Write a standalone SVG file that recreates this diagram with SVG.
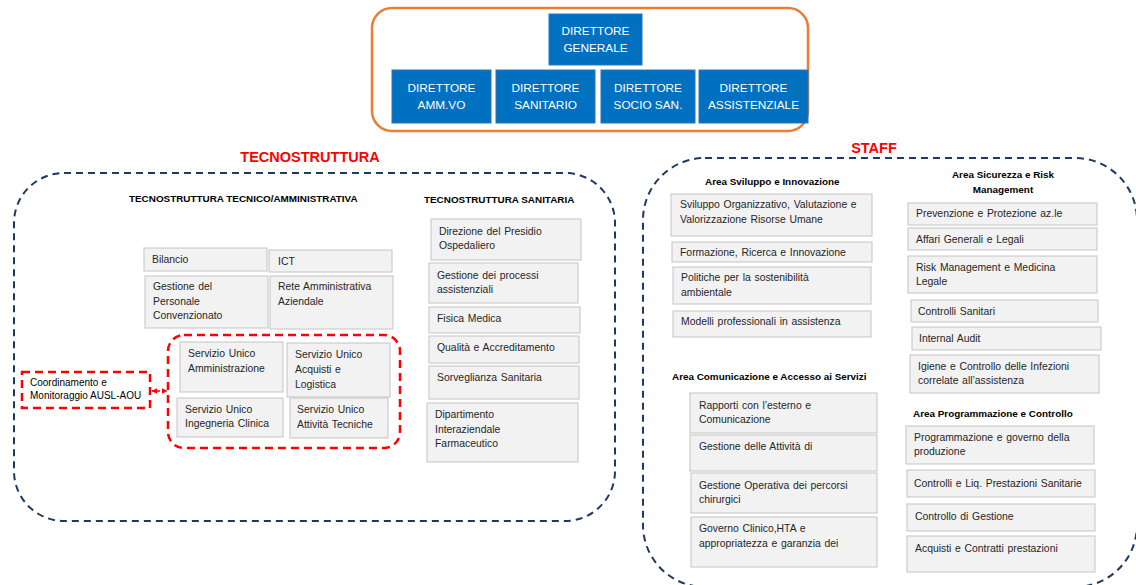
<svg xmlns="http://www.w3.org/2000/svg" width="1136" height="585" viewBox="0 0 1136 585">
<style>
text{font-family:"Liberation Sans",Arial,sans-serif}
.bl{fill:#0070C0;stroke:#2E75B6;stroke-width:1}
.bt{fill:#FFFFFF;font-size:11.8px;text-anchor:middle}
.gb{fill:#F2F2F2;stroke:#C4C4C4;stroke-width:1}
.t{fill:#262626;font-size:10.4px;word-spacing:0.8px}
.h{fill:#000;font-size:9.9px;font-weight:bold}
.hc{fill:#000;font-size:9.9px;font-weight:bold;text-anchor:middle}
.title{fill:#FF0000;font-size:14.5px;font-weight:bold;text-anchor:middle}
.navy{fill:none;stroke:#1F3864;stroke-width:2;stroke-dasharray:7 5}
.red{fill:none;stroke:#FF0000;stroke-width:2.5;stroke-dasharray:8 5}
</style>
<defs>
<marker id="ah" viewBox="0 0 10 10" refX="9" refY="5" markerWidth="4" markerHeight="4" orient="auto-start-reverse">
<path d="M0,0 L10,5 L0,10 z" fill="#FF0000"/>
</marker>
</defs>
<rect width="1136" height="585" fill="#FFFFFF"/>

<!-- Direction box -->
<g id="direzione">
<rect x="372" y="8" width="436" height="123" rx="20" fill="none" stroke="#ED7D31" stroke-width="2.5"/>
</g>
<g id="dir-generale"><rect class="bl" x="549" y="14" width="93" height="51"/><text class="bt" x="595.5" y="35">DIRETTORE</text><text class="bt" x="595.5" y="52">GENERALE</text></g>
<g id="dir-amm"><rect class="bl" x="392" y="70" width="99" height="53"/><text class="bt" x="441.5" y="92">DIRETTORE</text><text class="bt" x="441.5" y="109">AMM.VO</text></g>
<g id="dir-san"><rect class="bl" x="496" y="70" width="99" height="53"/><text class="bt" x="545.5" y="92">DIRETTORE</text><text class="bt" x="545.5" y="109">SANITARIO</text></g>
<g id="dir-socio"><rect class="bl" x="601" y="70" width="94" height="53"/><text class="bt" x="648" y="92">DIRETTORE</text><text class="bt" x="648" y="109">SOCIO SAN.</text></g>
<g id="dir-ass"><rect class="bl" x="699" y="70" width="109" height="53"/><text class="bt" x="753.5" y="92">DIRETTORE</text><text class="bt" x="753.5" y="109">ASSISTENZIALE</text></g>

<!-- Tecnostruttura -->
<text class="title" x="310" y="162">TECNOSTRUTTURA</text>
<g id="tecnostruttura">
<rect class="navy" x="14" y="173" width="601" height="348" rx="50"/>
</g>
<text class="h" x="129" y="202">TECNOSTRUTTURA TECNICO/AMMINISTRATIVA</text>
<text class="h" x="424" y="203">TECNOSTRUTTURA SANITARIA</text>

<g id="bilancio"><rect class="gb" x="144" y="248" width="123" height="23"/><text class="t" x="152" y="263">Bilancio</text></g>
<g id="ict"><rect class="gb" x="269" y="250" width="123" height="22"/><text class="t" x="278" y="265">ICT</text></g>
<g id="gest-personale"><rect class="gb" x="145" y="276" width="123" height="52"/><text class="t" x="153" y="290">Gestione del</text><text class="t" x="153" y="305">Personale</text><text class="t" x="153" y="319">Convenzionato</text></g>
<g id="rete-amm"><rect class="gb" x="270" y="276" width="123" height="53"/><text class="t" x="278" y="290">Rete Amministrativa</text><text class="t" x="278" y="305">Aziendale</text></g>

<g id="servizi-unici"><rect class="red" x="168" y="335" width="232" height="113" rx="16"/></g>
<g id="su-amm"><rect class="gb" x="180" y="342" width="103" height="50"/><text class="t" x="188" y="357">Servizio Unico</text><text class="t" x="188" y="372">Amministrazione</text></g>
<g id="su-acq"><rect class="gb" x="287" y="343" width="103" height="54"/><text class="t" x="295" y="358">Servizio Unico</text><text class="t" x="295" y="373">Acquisti e</text><text class="t" x="295" y="388">Logistica</text></g>
<g id="su-ing"><rect class="gb" x="177" y="398" width="106" height="39"/><text class="t" x="185" y="413">Servizio Unico</text><text class="t" x="185" y="427">Ingegneria Clinica</text></g>
<g id="su-att"><rect class="gb" x="290" y="398" width="98" height="40"/><text class="t" x="297" y="413">Servizio Unico</text><text class="t" x="297" y="428">Attività Tecniche</text></g>

<g id="coordinamento"><rect class="red" x="22" y="372" width="128" height="36"/><text class="t" x="30" y="386" style="fill:#000;font-size:10px;word-spacing:0">Coordinamento e</text><text class="t" x="30" y="399" style="fill:#000;font-size:10px;word-spacing:0">Monitoraggio AUSL-AOU</text></g>

<g id="san-dir"><rect class="gb" x="431" y="219" width="150" height="41"/><text class="t" x="439" y="235">Direzione del Presidio</text><text class="t" x="439" y="249">Ospedaliero</text></g>
<g id="san-proc"><rect class="gb" x="429" y="263" width="149" height="40"/><text class="t" x="437" y="279">Gestione dei processi</text><text class="t" x="437" y="293">assistenziali</text></g>
<g id="san-fis"><rect class="gb" x="429" y="307" width="151" height="26"/><text class="t" x="437" y="322">Fisica Medica</text></g>
<g id="san-qual"><rect class="gb" x="429" y="336" width="150" height="27"/><text class="t" x="437" y="351">Qualità e Accreditamento</text></g>
<g id="san-sorv"><rect class="gb" x="429" y="366" width="150" height="33"/><text class="t" x="437" y="381">Sorveglianza Sanitaria</text></g>
<g id="san-farm"><rect class="gb" x="427" y="403" width="151" height="59"/><text class="t" x="435" y="418">Dipartimento</text><text class="t" x="435" y="433">Interaziendale</text><text class="t" x="435" y="447">Farmaceutico</text></g>

<!-- Staff -->
<text class="title" x="874" y="153">STAFF</text>
<g id="staff"><rect class="navy" x="643" y="158" width="494" height="429" rx="62"/></g>

<text class="h" x="705" y="185">Area Sviluppo e Innovazione</text>
<g id="st-svil"><rect class="gb" x="671" y="194" width="201" height="42"/><text class="t" x="680" y="208">Sviluppo Organizzativo, Valutazione e</text><text class="t" x="680" y="223">Valorizzazione Risorse Umane</text></g>
<g id="st-form"><rect class="gb" x="672" y="242" width="200" height="20"/><text class="t" x="680" y="256">Formazione, Ricerca e Innovazione</text></g>
<g id="st-pol"><rect class="gb" x="673" y="267" width="198" height="37"/><text class="t" x="681" y="281">Politiche per la sostenibilità</text><text class="t" x="681" y="296">ambientale</text></g>
<g id="st-mod"><rect class="gb" x="673" y="311" width="198" height="26"/><text class="t" x="681" y="325">Modelli professionali in assistenza</text></g>

<text class="hc" x="1003" y="178">Area Sicurezza e Risk</text>
<text class="hc" x="1003" y="193">Management</text>
<g id="st-prev"><rect class="gb" x="908" y="203" width="189" height="22"/><text class="t" x="916" y="217">Prevenzione e Protezione az.le</text></g>
<g id="st-aff"><rect class="gb" x="908" y="228" width="189" height="22"/><text class="t" x="916" y="243">Affari Generali e Legali</text></g>
<g id="st-risk"><rect class="gb" x="908" y="256" width="189" height="37"/><text class="t" x="916" y="271">Risk Management e Medicina</text><text class="t" x="916" y="285">Legale</text></g>
<g id="st-contr"><rect class="gb" x="911" y="300" width="187" height="22"/><text class="t" x="918" y="315">Controlli Sanitari</text></g>
<g id="st-audit"><rect class="gb" x="912" y="327" width="189" height="23"/><text class="t" x="919" y="342">Internal Audit</text></g>
<g id="st-igiene"><rect class="gb" x="910" y="355" width="189" height="38"/><text class="t" x="918" y="370">Igiene e Controllo delle Infezioni</text><text class="t" x="918" y="384">correlate all’assistenza</text></g>

<text class="h" x="672" y="380">Area Comunicazione e Accesso ai Servizi</text>
<g id="st-rapp"><rect class="gb" x="690" y="393" width="187" height="40"/><text class="t" x="699" y="409">Rapporti con l’esterno e</text><text class="t" x="699" y="423">Comunicazione</text></g>
<g id="st-gatt"><rect class="gb" x="690" y="435" width="187" height="36"/><text class="t" x="699" y="450">Gestione delle Attività di</text></g>
<g id="st-gop"><rect class="gb" x="691" y="473" width="186" height="40"/><text class="t" x="699" y="489">Gestione Operativa dei percorsi</text><text class="t" x="699" y="503">chirurgici</text></g>
<g id="st-gov"><rect class="gb" x="691" y="517" width="186" height="50"/><text class="t" x="699" y="532">Governo Clinico,HTA e</text><text class="t" x="699" y="547">appropriatezza e garanzia dei</text></g>

<text class="h" x="913" y="417">Area Programmazione e Controllo</text>
<g id="st-prog"><rect class="gb" x="906" y="426" width="188" height="38"/><text class="t" x="914" y="441">Programmazione e governo della</text><text class="t" x="914" y="455">produzione</text></g>
<g id="st-liq"><rect class="gb" x="907" y="470" width="188" height="27"/><text class="t" x="914" y="487">Controlli e Liq. Prestazioni Sanitarie</text></g>
<g id="st-cdg"><rect class="gb" x="907" y="504" width="188" height="27"/><text class="t" x="915" y="520">Controllo di Gestione</text></g>
<g id="st-acq"><rect class="gb" x="907" y="536" width="188" height="36"/><text class="t" x="915" y="552">Acquisti e Contratti prestazioni</text></g>

<g id="connectors">
<line x1="152" y1="391" x2="167" y2="391" stroke="#FF0000" stroke-width="1.5" stroke-dasharray="3 2" marker-start="url(#ah)" marker-end="url(#ah)"/>
</g>
</svg>
